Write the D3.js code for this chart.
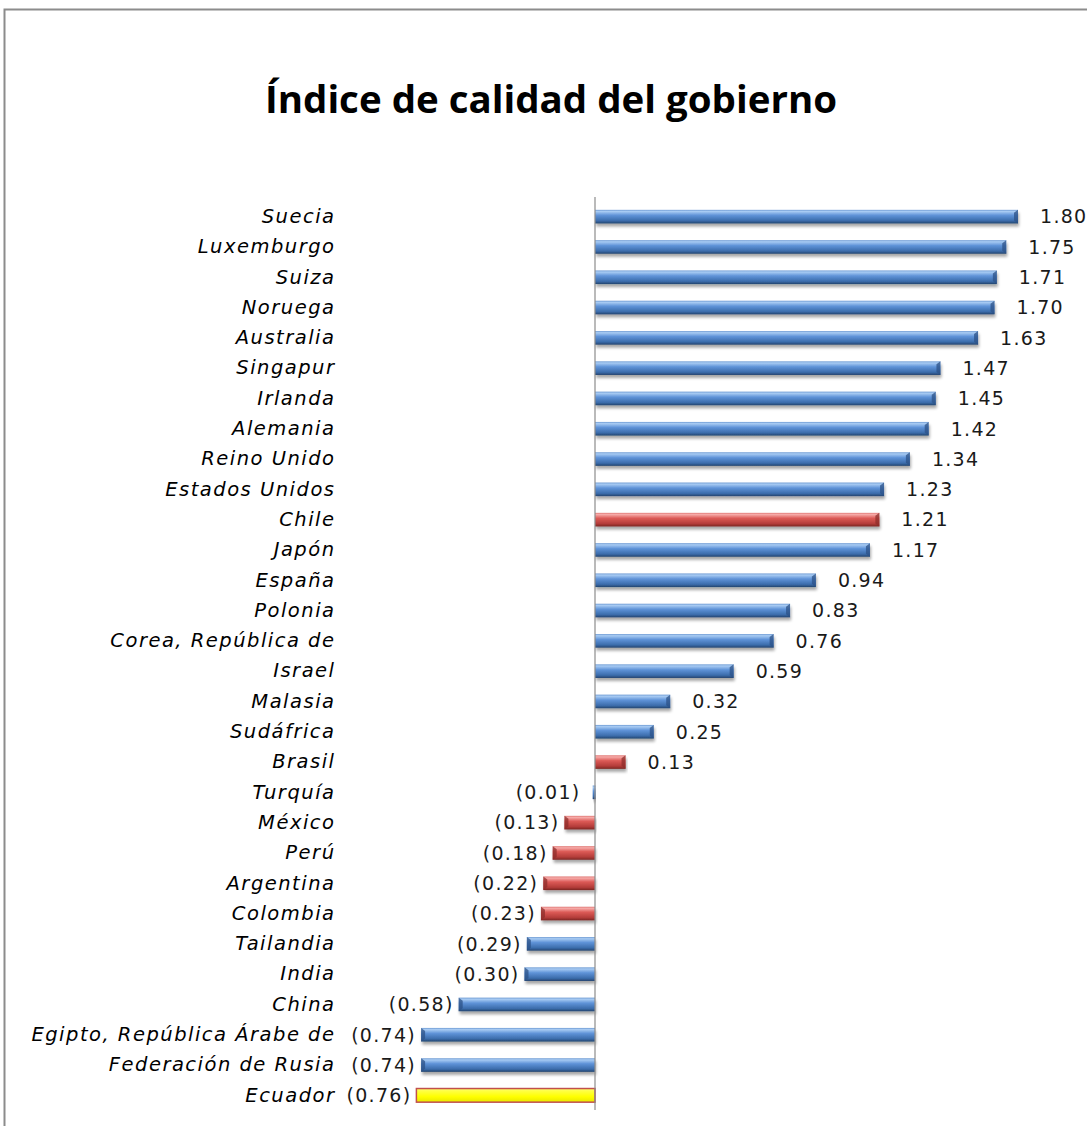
<!DOCTYPE html>
<html>
<head>
<meta charset="utf-8">
<title>Índice de calidad del gobierno</title>
<script src="https://cdn.jsdelivr.net/npm/d3@7"></script>
<style>
body { margin: 0; background: #fff; }
</style>
</head>
<body>
<script>

// data, top to bottom as in the chart
var countries = ["Suecia", "Luxemburgo", "Suiza", "Noruega", "Australia", "Singapur",
  "Irlanda", "Alemania", "Reino Unido", "Estados Unidos", "Chile", "Japón", "España",
  "Polonia", "Corea, República de", "Israel", "Malasia", "Sudáfrica", "Brasil", "Turquía",
  "México", "Perú", "Argentina", "Colombia", "Tailandia", "India", "China",
  "Egipto, República Árabe de", "Federación de Rusia", "Ecuador"];
var values = [1.80, 1.75, 1.71, 1.70, 1.63, 1.47, 1.45, 1.42, 1.34, 1.23, 1.21, 1.17, 0.94,
  0.83, 0.76, 0.59, 0.32, 0.25, 0.13, -0.01, -0.13, -0.18, -0.22, -0.23, -0.29, -0.30, -0.58,
  -0.74, -0.74, -0.76];
// which group each bar belongs to (colour)
var latam = ["Chile", "Brasil", "México", "Perú", "Argentina", "Colombia"];
var highlight = ["Ecuador"];

var data = countries.map(function(c, i) {
  return {
    name: c,
    val: values[i],
    grp: highlight.indexOf(c) >= 0 ? "yellow" : (latam.indexOf(c) >= 0 ? "red" : "blue")
  };
});

var W = 1087, H = 1126;

var svg = d3.select("body").append("svg")
  .attr("width", W)
  .attr("height", H);

// chart frame
svg.append("rect")
  .attr("x", 4.5).attr("y", 9.5)
  .attr("width", W + 10).attr("height", H + 10)
  .attr("fill", "#fff")
  .attr("stroke", "#8c8c8c")
  .attr("stroke-width", 2);

// gradients for the "3d" bars
var defs = svg.append("defs");
var grads = {
  blue:   [["0%", "#6f9bd3"], ["12%", "#a8cbf3"], ["40%", "#5f93d8"], ["80%", "#3b6cab"], ["100%", "#23446e"]],
  red:    [["0%", "#e07a77"], ["12%", "#f6aaa8"], ["40%", "#dc5a56"], ["80%", "#b33c39"], ["100%", "#7a2522"]],
  yellow: [["0%", "#ffff70"], ["20%", "#ffff40"], ["60%", "#ffff00"], ["100%", "#e8e800"]]
};
Object.keys(grads).forEach(function(k) {
  var g = defs.append("linearGradient")
    .attr("id", "g-" + k)
    .attr("x1", 0).attr("y1", 0).attr("x2", 0).attr("y2", 1);
  grads[k].forEach(function(s) {
    g.append("stop").attr("offset", s[0]).attr("stop-color", s[1]);
  });
});
var shadow = defs.append("filter").attr("id", "shadow")
  .attr("x", "-5%").attr("y", "-50%").attr("width", "110%").attr("height", "200%");
shadow.append("feGaussianBlur").attr("in", "SourceAlpha").attr("stdDeviation", 1.5);
shadow.append("feOffset").attr("dx", 1).attr("dy", 3).attr("result", "blur");
shadow.append("feComponentTransfer").append("feFuncA").attr("type", "linear").attr("slope", 0.35);
var merge = shadow.append("feMerge");
merge.append("feMergeNode");
merge.append("feMergeNode").attr("in", "SourceGraphic");

// scales
var x = d3.scaleLinear()
  .domain([-1, 2])
  .range([360, 1065]);

var y = d3.scaleBand()
  .domain(countries)
  .range([201.5, 1110.5])
  .paddingInner(0.55)
  .paddingOuter(0.275);

// title
svg.append("text")
  .attr("x", 551)
  .attr("y", 113)
  .attr("text-anchor", "middle")
  .attr("textLength", 572)
  .attr("lengthAdjust", "spacingAndGlyphs")
  .style("font-family", "'Open Sans', 'Noto Sans', sans-serif")
  .style("font-weight", "bold")
  .style("font-size", "37px")
  .text("Índice de calidad del gobierno");

// category labels
var yAxis = svg.append("g")
  .attr("transform", "translate(335.5,0)")
  .call(d3.axisLeft(y).tickSize(0).tickPadding(0));
yAxis.select(".domain").remove();
yAxis.selectAll("text")
  .style("font-family", "'DejaVu Sans', sans-serif")
  .style("font-style", "italic")
  .style("font-size", "19.5px")
  .style("letter-spacing", "1.5px")
  .attr("fill", "#000");

// bars
var bars = svg.append("g").selectAll("g")
  .data(data)
  .enter()
  .append("g");

bars.append("rect")
  .attr("x", function(d) { return Math.min(x(0), x(d.val)); })
  .attr("y", function(d) { return y(d.name); })
  .attr("width", function(d) { return Math.max(Math.abs(x(d.val) - x(0)), 3); })
  .attr("height", y.bandwidth())
  .attr("fill", function(d) { return "url(#g-" + d.grp + ")"; })
  .attr("stroke", function(d) { return d.grp == "yellow" ? "#c0504d" : "none"; })
  .attr("stroke-width", 1.5)
  .attr("filter", function(d) { return d.grp == "yellow" ? null : "url(#shadow)"; });

// darker bevel at the outer end of each bar
bars.filter(function(d) { return d.grp != "yellow" && Math.abs(x(d.val) - x(0)) > 6; })
  .append("path")
  .attr("d", function(d) {
    var xe = x(d.val), y0 = y(d.name), h = y.bandwidth();
    var s = d.val > 0 ? -1 : 1;
    return "M" + xe + "," + y0 + "L" + (xe + s * 4) + "," + (y0 + 3) +
      "L" + (xe + s * 4) + "," + (y0 + h - 3) + "L" + xe + "," + (y0 + h) + "Z";
  })
  .attr("fill", function(d) { return d.grp == "red" ? "#8e2e2b" : "#2c5287"; })
  .attr("opacity", 0.75);

// value labels
var fmt = d3.format(".2f");
svg.append("g").selectAll("text")
  .data(data)
  .enter()
  .append("text")
  .attr("x", function(d) { return d.val >= 0 ? x(d.val) + 22 : x(Math.min(d.val, -0.04)) - 5; })
  .attr("y", function(d) { return y(d.name) + y.bandwidth() / 2; })
  .attr("dy", "0.36em")
  .attr("text-anchor", function(d) { return d.val >= 0 ? "start" : "end"; })
  .style("font-family", "'DejaVu Sans', sans-serif")
  .style("font-size", "19px")
  .style("letter-spacing", "1.3px")
  .attr("fill", "#1a1a1a")
  .text(function(d) { return d.val >= 0 ? fmt(d.val) : "(" + fmt(-d.val) + ")"; });

// vertical axis at zero
svg.append("line")
  .attr("x1", x(0)).attr("x2", x(0))
  .attr("y1", 197).attr("y2", 1110)
  .attr("stroke", "#8c8c8c")
  .attr("stroke-width", 1.2);

</script>
</body>
</html>
